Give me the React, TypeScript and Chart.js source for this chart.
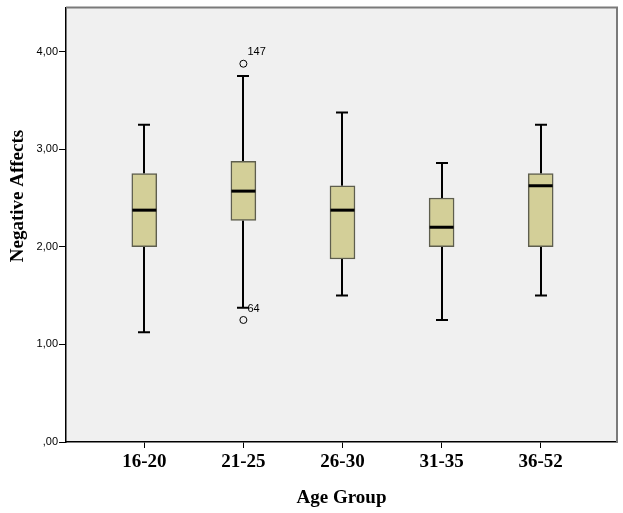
import React, { useEffect, useRef } from "react";
import { Chart, registerables } from "chart.js";

Chart.register(...registerables);

const categories = ["16-20", "21-25", "26-30", "31-35", "36-52"];
const whiskerLow = [1.125, 1.375, 1.5, 1.25, 1.5];
const q1 = [2.0, 2.27, 1.875, 2.0, 2.0];
const median = [2.375, 2.57, 2.375, 2.2, 2.625];
const q3 = [2.75, 2.875, 2.625, 2.5, 2.75];
const whiskerHigh = [3.25, 3.75, 3.375, 2.857, 3.25];
const outlierGroup = [2, 2];
const outlierValue = [3.875, 1.25];
const outlierLabels = ["147", "64"];
const yTickValues = [0, 1, 2, 3, 4];
const yTickLabels = [",00", "1,00", "2,00", "3,00", "4,00"];

const BOX_FILL = "#d3cf98";
const BOX_BORDER = "#5e5e4e";

const boxPlugin = {
  id: "boxExtras",
  beforeDraw(chart: any) {
    const { ctx, chartArea } = chart;
    ctx.save();
    ctx.fillStyle = "#ffffff";
    ctx.fillRect(0, 0, chart.width, chart.height);
    ctx.fillStyle = "#f0f0f0";
    ctx.fillRect(chartArea.left, chartArea.top, chartArea.right - chartArea.left, chartArea.bottom - chartArea.top);
    ctx.restore();
  },
  beforeDatasetsDraw(chart: any) {
    const { ctx } = chart;
    const xs = chart.scales.x;
    const ys = chart.scales.y;
    ctx.save();
    ctx.strokeStyle = "#000000";
    ctx.lineWidth = 2;
    const cap = 6;
    categories.forEach((_, i) => {
      const x = Math.round(xs.getPixelForValue(i + 1));
      const yLo = ys.getPixelForValue(whiskerLow[i]);
      const yQ1 = ys.getPixelForValue(q1[i]);
      const yQ3 = ys.getPixelForValue(q3[i]);
      const yHi = ys.getPixelForValue(whiskerHigh[i]);
      ctx.beginPath();
      ctx.moveTo(x, yHi);
      ctx.lineTo(x, yQ3);
      ctx.moveTo(x, yQ1);
      ctx.lineTo(x, yLo);
      ctx.moveTo(x - cap, yHi);
      ctx.lineTo(x + cap, yHi);
      ctx.moveTo(x - cap, yLo);
      ctx.lineTo(x + cap, yLo);
      ctx.stroke();
    });
    ctx.restore();
  },
  afterDatasetsDraw(chart: any) {
    const { ctx, chartArea } = chart;
    const xs = chart.scales.x;
    const ys = chart.scales.y;
    ctx.save();
    ctx.strokeStyle = "#000000";
    ctx.lineWidth = 3;
    const half = 12;
    categories.forEach((_, i) => {
      const x = xs.getPixelForValue(i + 1);
      const y = ys.getPixelForValue(median[i]);
      ctx.beginPath();
      ctx.moveTo(x - half, y);
      ctx.lineTo(x + half, y);
      ctx.stroke();
    });
    ctx.fillStyle = "#000000";
    ctx.font = "11px 'Liberation Sans', Arial, sans-serif";
    ctx.textBaseline = "middle";
    ctx.textAlign = "left";
    outlierValue.forEach((v, k) => {
      const x = xs.getPixelForValue(outlierGroup[k]);
      const y = ys.getPixelForValue(v);
      ctx.fillText(outlierLabels[k], x + 4, y - 11.5);
    });
    // frame: top and right gray
    ctx.strokeStyle = "#7a7a7a";
    ctx.lineWidth = 2;
    ctx.beginPath();
    ctx.moveTo(chartArea.left, chartArea.top);
    ctx.lineTo(chartArea.right, chartArea.top);
    ctx.lineTo(chartArea.right, chartArea.bottom);
    ctx.stroke();
    // y-axis title
    ctx.fillStyle = "#000000";
    ctx.font = "bold 19px 'Liberation Serif', 'Times New Roman', serif";
    ctx.textAlign = "center";
    ctx.textBaseline = "middle";
    ctx.translate(18, 196);
    ctx.rotate(-Math.PI / 2);
    ctx.fillText("Negative Affects", 0, 0);
    ctx.restore();
  },
};

export default function App() {
  const ref = useRef<HTMLCanvasElement>(null);
  useEffect(() => {
    document.body.style.margin = "0";
    const canvas = ref.current;
    if (!canvas) return;
    const chart = new Chart(canvas, {
      type: "bar",
      data: {
        datasets: [
          {
            type: "bar",
            data: categories.map((_, i) => ({ x: i + 1, y: [q1[i], q3[i]] })) as any,
            backgroundColor: BOX_FILL,
            borderColor: BOX_BORDER,
            borderWidth: 1.5,
            borderSkipped: false,
            barThickness: 25,
          } as any,
          {
            type: "scatter",
            data: outlierValue.map((v, k) => ({ x: outlierGroup[k], y: v })),
            pointStyle: "circle",
            pointRadius: 3.5,
            pointBackgroundColor: "#f0f0f0",
            pointBorderColor: "#000000",
            pointBorderWidth: 1,
          } as any,
        ],
      },
      options: {
        animation: false,
        responsive: false,
        devicePixelRatio: 1,
        layout: { padding: { left: 0, top: 6, right: 6, bottom: 0 } },
        plugins: { legend: { display: false }, tooltip: { enabled: false } },
        scales: {
          x: {
            type: "linear",
            offset: false,
            min: 0.21,
            max: 5.77,
            afterBuildTicks: (s: any) => {
              s.ticks = categories.map((_, i) => ({ value: i + 1 }));
            },
            afterFit: (s: any) => {
              s.height = 71;
            },
            ticks: {
              autoSkip: false,
              maxRotation: 0,
              padding: 3,
              color: "#000000",
              font: { family: "'Liberation Serif', 'Times New Roman', serif", size: 19, weight: "bold" },
              callback: (v: any) => categories[Number(v) - 1] ?? "",
            },
            grid: { offset: false, drawOnChartArea: false, tickLength: 6, color: "#000000", lineWidth: 1 },
            border: { color: "#000000", width: 1.5 },
            title: {
              display: true,
              text: "Age Group",
              color: "#000000",
              padding: { top: 0, bottom: 4 },
              font: { family: "'Liberation Serif', 'Times New Roman', serif", size: 19, weight: "bold" },
            },
          },
          y: {
            type: "linear",
            min: 0,
            max: 4.45,
            afterBuildTicks: (s: any) => {
              s.ticks = yTickValues.map((v) => ({ value: v }));
            },
            afterFit: (s: any) => {
              s.width = 66;
            },
            ticks: {
              padding: 1,
              color: "#000000",
              font: { family: "'Liberation Sans', Arial, sans-serif", size: 11 },
              callback: (v: any) => {
                const idx = yTickValues.indexOf(Number(v));
                return idx >= 0 ? yTickLabels[idx] : "";
              },
            },
            grid: { drawOnChartArea: false, tickLength: 7, color: "#000000", lineWidth: 1 },
            border: { color: "#000000", width: 1.5 },
          },
        },
      } as any,
      plugins: [boxPlugin],
    });
    return () => chart.destroy();
  }, []);
  return (
    <div style={{ width: 623, height: 513 }}>
      <canvas ref={ref} width={623} height={513} style={{ display: "block" }} />
    </div>
  );
}
